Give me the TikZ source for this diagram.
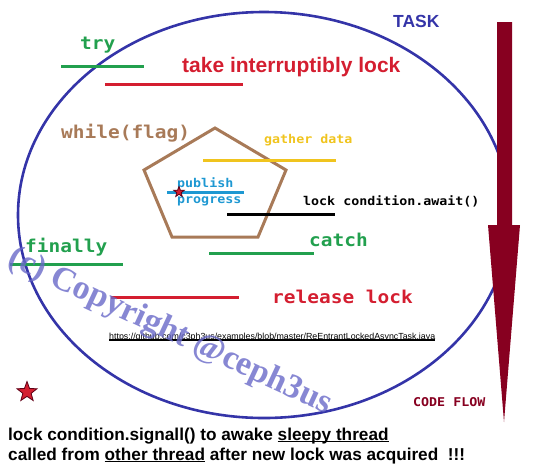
\documentclass[tikz,border=0pt]{standalone}
\usepackage{fontspec}
\setmainfont{Liberation Sans}
\newfontfamily\mono[FakeStretch=1.1]{DejaVu Sans Mono}
\newfontfamily\wmfont{Liberation Serif}
\usetikzlibrary{shapes.geometric}
\definecolor{taskblue}{RGB}{52,52,168}
\definecolor{cgreen}{RGB}{34,160,78}
\definecolor{cred}{RGB}{212,30,48}
\definecolor{cbrown}{RGB}{168,122,88}
\definecolor{cyellow}{RGB}{240,196,30}
\definecolor{cblue}{RGB}{30,152,210}
\definecolor{darkred}{RGB}{135,0,32}
\definecolor{wmblue}{RGB}{105,105,200}
\newcommand\myul[2][2.2pt]{\setbox0\hbox{#2}\rlap{\rule[-#1]{\wd0}{1.2pt}}\box0\relax}
\tikzset{
  txt/.style={inner sep=0pt, anchor=base west},
  bigmono/.style={txt, font=\mono\bfseries\fontsize{17.7}{20}\selectfont},
  smallmono/.style={txt, font=\mono\bfseries\fontsize{12.1}{14}\selectfont},
  bar/.style={line width=3pt},
  redstar/.style={star, star points=5, star point ratio=2.4, fill=cred, draw=darkred!70!black, line width=0.8pt, inner sep=0pt},
}
\begin{document}
\begin{tikzpicture}[x=1pt,y=-1pt]
\useasboundingbox (0,0) rectangle (540,467);
% task ellipse
\draw[taskblue, line width=2.6pt] (264,215) ellipse [x radius=246pt, y radius=203pt];
% pentagon
\coordinate (p1) at (215,128);
\coordinate (p2) at (286,170);
\coordinate (p3) at (258,237);
\coordinate (p4) at (172,237);
\coordinate (p5) at (144,170);
\draw[cbrown, line width=3pt, line join=miter] (p1) -- (p2) -- (p3) -- (p4) -- (p5) -- cycle;
% code flow arrow
\fill[darkred] (497,22) -- (512,22) -- (512,225) -- (520,225) -- (504,422) -- (488,225) -- (497,225) -- cycle;
% labels
\node[txt, font=\bfseries\fontsize{17.5}{20}\selectfont, text=taskblue] (task) at (393,27) {TASK};
\node[bigmono, text=cgreen] (try) at (80,49) {try};
\coordinate (tryA) at (61,66); \coordinate (tryB) at (144,66);
\draw[cgreen, bar] (tryA) -- (tryB);
\node[txt, font=\bfseries\fontsize{21}{24}\selectfont, text=cred] (take) at (182,72) {take interruptibly lock};
\coordinate (takeA) at (105,84); \coordinate (takeB) at (243,84);
\draw[cred, bar] (takeA) -- (takeB);
\node[bigmono, text=cbrown] (while) at (61,138) {while(flag)};
\node[smallmono, text=cyellow] (gather) at (264,143) {gather data};
\coordinate (gatherA) at (203,160); \coordinate (gatherB) at (336,160);
\draw[cyellow, bar] (gatherA) -- (gatherB);
\node[smallmono, text=cblue] (publish) at (177,187) {publish};
\node[smallmono, text=cblue] (progress) at (177,203) {progress};
\coordinate (pubA) at (167,192); \coordinate (pubB) at (244,192);
\draw[cblue, bar] (pubA) -- (pubB);
\node[redstar, minimum size=11pt] (star1) at (179,192) {};
\node[smallmono, text=black] (await) at (303,205) {lock condition.await()};
\coordinate (awaitA) at (227,214); \coordinate (awaitB) at (335,214);
\draw[black, bar] (awaitA) -- (awaitB);
\node[bigmono, text=cgreen] (catch) at (309,246) {catch};
\coordinate (catchA) at (209,253); \coordinate (catchB) at (314,253);
\draw[cgreen, bar] (catchA) -- (catchB);
\node[bigmono, text=cgreen] (finally) at (25,252) {finally};
\coordinate (finA) at (10,264); \coordinate (finB) at (123,264);
\draw[cgreen, bar] (finA) -- (finB);
\node[bigmono, text=cred] (release) at (272,303) {release lock};
\coordinate (relA) at (111,297); \coordinate (relB) at (239,297);
\draw[cred, bar] (relA) -- (relB);
\node[txt] (url) at (109,339) {\resizebox{326pt}{!}{\fontsize{9}{10}\selectfont\myul[1.6pt]{https://github.com/c3ph3us/examples/blob/master/ReEntrantLockedAsyncTask.java}}};
\node[redstar, minimum size=21pt] (star2) at (27,392) {};
\node[smallmono, text=darkred] (flow) at (413,406) {CODE FLOW};
\node[txt, font=\bfseries\fontsize{17.2}{20}\selectfont] (note1) at (8,440) {lock condition.signall() to awake \myul{sleepy thread}};
\node[txt, font=\bfseries\fontsize{17.2}{20}\selectfont] (note2) at (8,460) {called from \myul{other thread} after new lock was acquired\ \ !!!};
% watermark
\node[inner sep=0pt, rotate=-25, text=wmblue, opacity=0.8, font=\wmfont\bfseries\fontsize{34}{36}\selectfont] (wm) at (170,332) {(c) Copyright @ceph3us};
\end{tikzpicture}
\end{document}
